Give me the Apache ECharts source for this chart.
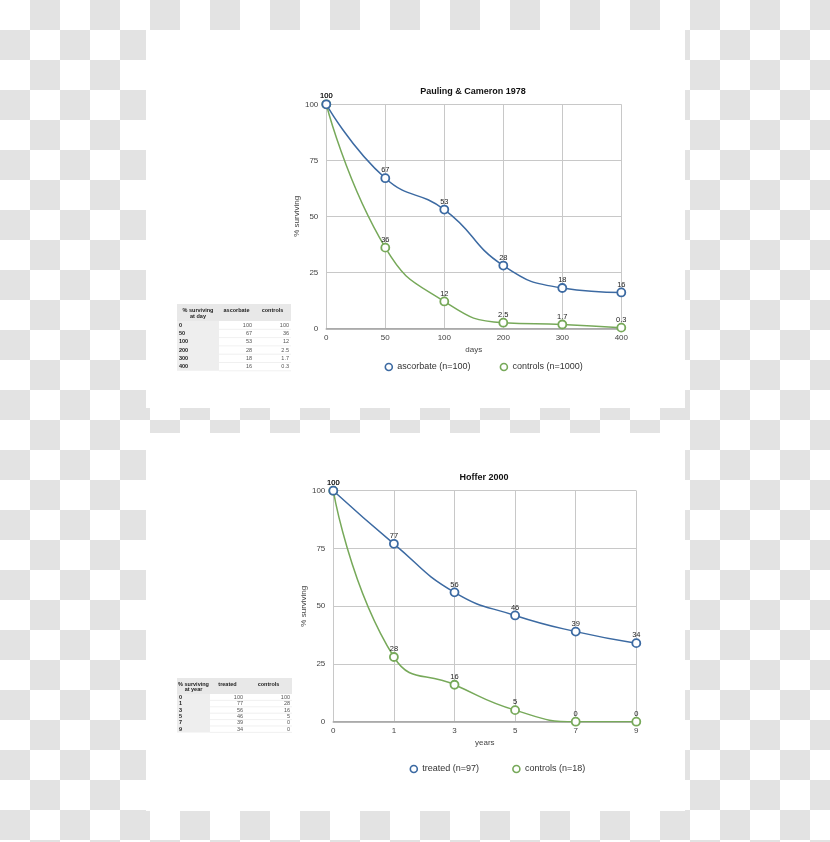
<!DOCTYPE html>
<html><head><meta charset="utf-8">
<script src="https://cdn.jsdelivr.net/npm/echarts@6/dist/echarts.min.js"></script>
<style>
html,body{margin:0;padding:0;}
body{width:830px;height:842px;background:#fff repeating-conic-gradient(#e3e3e3 0 25%, #fff 0 50%) 0 0/60px 60px;overflow:hidden;}
#c{width:830px;height:842px;}
</style></head><body><div id="c"></div>
<script>
// ---- data ----
const days = ['0', '50', '100', '200', '300', '400'];
const ascorbate = [100, 67, 53, 28, 18, 16];
const controls1 = [100, 36, 12, 2.5, 1.7, 0.3];
const years = ['0', '1', '3', '5', '7', '9'];
const treated = [100, 77, 56, 46, 39, 34];
const controls2 = [100, 28, 16, 5, 0, 0];
const yTicks = [0, 25, 50, 75, 100];
const title1 = 'Pauling & Cameron 1978';
const title2 = 'Hoffer 2000';
const names1 = ['ascorbate (n=100)', 'controls (n=1000)'];
const names2 = ['treated (n=97)', 'controls (n=18)'];

const BLUE = '#3c6aa2';
const GREEN = '#77a95a';
const FONT = 'Liberation Sans, Arial, Helvetica, sans-serif';

function xAxisCfg(cats, idx, name, gap) {
  return {
    type: 'category', gridIndex: idx, data: cats, boundaryGap: false,
    name: name, nameLocation: 'middle', nameGap: gap,
    nameTextStyle: {fontSize: 8, color: '#444', fontFamily: FONT},
    axisLine: {show: true, lineStyle: {color: '#a0a0a0', width: 1.6}},
    axisTick: {show: false},
    axisLabel: {fontSize: 8, color: '#444', margin: 5, fontFamily: FONT},
    splitLine: {show: true, lineStyle: {color: '#c8c8c8', width: 1}}
  };
}
function yAxisCfg(idx, gap) {
  return {
    type: 'value', gridIndex: idx, min: yTicks[0], max: yTicks[yTicks.length - 1], interval: 25,
    name: '% surviving', nameLocation: 'middle', nameRotate: 90, nameGap: gap,
    nameTextStyle: {fontSize: 8, color: '#444', fontFamily: FONT},
    axisLine: {show: false}, axisTick: {show: false},
    axisLabel: {fontSize: 8, color: '#444', margin: 8, fontFamily: FONT},
    splitLine: {show: true, lineStyle: {color: '#c8c8c8', width: 1}}
  };
}
function lineSeries(name, data, color, idx) {
  return {
    type: 'line', name: name, data: data, xAxisIndex: idx, yAxisIndex: idx,
    smooth: 0.5, symbol: 'circle', symbolSize: 8,
    lineStyle: {color: color, width: 1.5},
    itemStyle: {color: '#fff', borderColor: color, borderWidth: 1.8},
    label: {show: true, position: 'top', distance: -1, fontSize: 7.5, color: '#222', fontFamily: FONT},
    emphasis: {disabled: true}, z: 3
  };
}
function legendCfg(names, left, top, gap) {
  return {
    data: [
      {name: names[0], itemStyle: {color: '#fff', borderColor: BLUE, borderWidth: 1.6}},
      {name: names[1], itemStyle: {color: '#fff', borderColor: GREEN, borderWidth: 1.6}}
    ],
    left: left, top: top, icon: 'circle', itemWidth: 7, itemHeight: 7, itemGap: gap,
    textStyle: {fontSize: 9, color: '#333', fontFamily: FONT}, selectedMode: false
  };
}
function table(x, y, colW, headH, rowH, hdr, rowLabels, c1, c2) {
  const els = [];
  const w = colW[0] + colW[1] + colW[2];
  const n = rowLabels.length;
  els.push({type: 'rect', shape: {x: x, y: y, width: w, height: headH}, style: {fill: '#e8e8e8'}});
  els.push({type: 'rect', shape: {x: x, y: y + headH, width: colW[0], height: rowH * n}, style: {fill: '#eeeeee'}});
  for (let i = 0; i < n; i++) {
    const yy = y + headH + rowH * (i + 1);
    els.push({type: 'line', shape: {x1: x + colW[0], y1: yy, x2: x + w, y2: yy}, style: {stroke: '#e6e6e6', lineWidth: 0.6}});
  }
  const hs = {fontSize: 5.5, fontWeight: 'bold', fill: '#222', fontFamily: FONT, align: 'center', verticalAlign: 'middle'};
  els.push({type: 'text', x: x + colW[0] / 2, y: y + headH * 0.38, style: Object.assign({text: hdr[0]}, hs)});
  els.push({type: 'text', x: x + colW[0] / 2, y: y + headH * 0.72, style: Object.assign({text: hdr[1]}, hs)});
  els.push({type: 'text', x: x + colW[0] + colW[1] / 2, y: y + headH * 0.38, style: Object.assign({text: hdr[2]}, hs)});
  els.push({type: 'text', x: x + colW[0] + colW[1] + colW[2] / 2, y: y + headH * 0.38, style: Object.assign({text: hdr[3]}, hs)});
  for (let i = 0; i < n; i++) {
    const yy = y + headH + rowH * (i + 0.5);
    els.push({type: 'text', x: x + 2, y: yy, style: {text: rowLabels[i], fontSize: 5.5, fontWeight: 'bold', fill: '#222', fontFamily: FONT, align: 'left', verticalAlign: 'middle'}});
    els.push({type: 'text', x: x + colW[0] + colW[1] - 2, y: yy, style: {text: String(c1[i]), fontSize: 5.5, fill: '#555', fontFamily: FONT, align: 'right', verticalAlign: 'middle'}});
    els.push({type: 'text', x: x + w - 2, y: yy, style: {text: String(c2[i]), fontSize: 5.5, fill: '#555', fontFamily: FONT, align: 'right', verticalAlign: 'middle'}});
  }
  return els;
}

const chart = echarts.init(document.getElementById('c'), null, {renderer: 'canvas'});
const graphics = [
  {type: 'rect', shape: {x: 146, y: 30, width: 539, height: 378}, style: {fill: '#fff'}, z: -10},
  {type: 'rect', shape: {x: 146, y: 433, width: 539, height: 378}, style: {fill: '#fff'}, z: -10},
  {type: 'text', x: 473, y: 92, style: {text: title1, fontSize: 9, fontWeight: 'bold', fill: '#111', fontFamily: FONT, align: 'center', verticalAlign: 'middle'}},
  {type: 'text', x: 484, y: 478, style: {text: title2, fontSize: 9, fontWeight: 'bold', fill: '#111', fontFamily: FONT, align: 'center', verticalAlign: 'middle'}}
].concat(
  table(177, 304, [42, 35, 37], 17, 8.3, ['% surviving', 'at day', 'ascorbate', 'controls'], days, ascorbate, controls1),
  table(177, 678, [33, 35, 47], 16, 6.4, ['% surviving', 'at year', 'treated', 'controls'], years, treated, controls2)
);

chart.setOption({
  animation: false,
  graphic: graphics,
  grid: [
    {left: 326.3, top: 104.3, width: 295, height: 224, containLabel: false},
    {left: 333.3, top: 490.7, width: 303, height: 231, containLabel: false}
  ],
  xAxis: [xAxisCfg(days, 0, 'days', 17), xAxisCfg(years, 1, 'years', 17)],
  yAxis: [yAxisCfg(0, 25), yAxisCfg(1, 26)],
  legend: [legendCfg(names1, 379.5, 357.5, 29), legendCfg(names2, 404.5, 759.5, 33)],
  series: [
    lineSeries(names1[1], controls1, GREEN, 0),
    lineSeries(names1[0], ascorbate, BLUE, 0),
    lineSeries(names2[1], controls2, GREEN, 1),
    lineSeries(names2[0], treated, BLUE, 1)
  ]
});
</script></body></html>
